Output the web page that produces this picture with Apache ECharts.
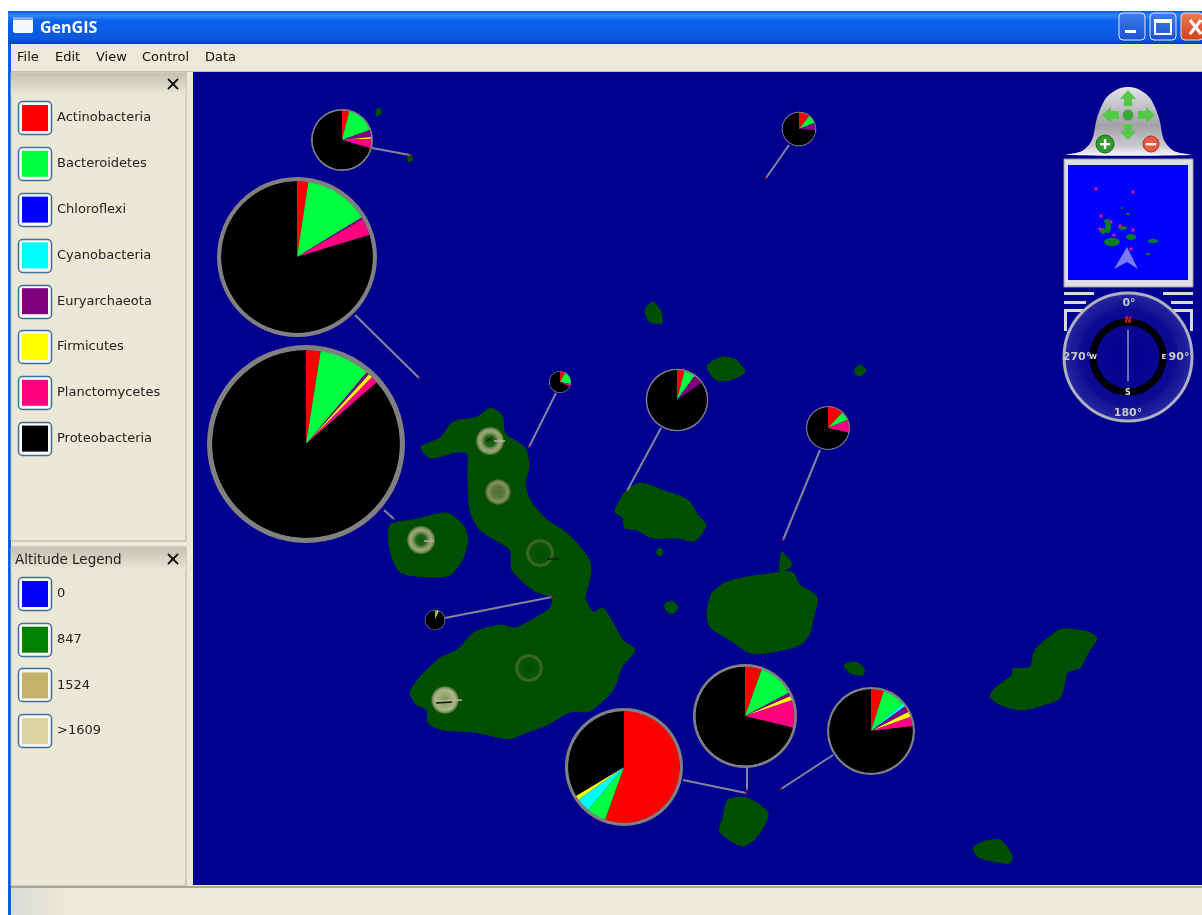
<!DOCTYPE html>
<html><head><meta charset="utf-8"><title>GenGIS</title>
<style>html,body{margin:0;padding:0;background:#fff;overflow:hidden}#c{width:1202px;height:915px;filter:blur(0.45px)}</style>
<script src="https://cdn.jsdelivr.net/npm/echarts@6/dist/echarts.min.js"></script></head>
<body><div id="c"></div>
<script>
// ---------- data ----------
const taxa = ['Actinobacteria','Bacteroidetes','Chloroflexi','Cyanobacteria','Euryarchaeota','Firmicutes','Planctomycetes','Proteobacteria'];
const taxaColors = ['#ff0000','#00ff40','#0000ff','#00ffff','#800080','#ffff00','#ff0080','#000000'];
const altitudes = ['0','847','1524','>1609'];
const altitudeColors = ['#0000ff','#008000','#c4b26a','#dcd3a0'];
const menuItems = ['File','Edit','View','Control','Data'];

const siteA = [4,15.5,0,0,3.8,1,5.2,70.5];
const siteB = [2.4,13.9,0,0,0.4,0,3.6,79.7];
const siteC = [2.5,8.7,0,0,0.5,0.7,1.2,86.4];
const siteD = [8,20,0,0,0,0,4,68];
const siteE = [4,6,0,0,5.4,0,0,84.6];
const siteF = [11.8,6.9,0,0,0,0,9.9,71.4];
const siteG = [10.7,8.3,0,0,7.4,0,0,73.6];
const siteH = [0,3.5,0,0,0,3,0,93.5];
const siteI = [55.5,5.6,0,4,0,1.3,0,33.6];
const siteJ = [5.5,11.8,0,0,1.1,1.4,9,71.2];
const siteK = [4.9,8.85,0,1.25,2.5,2.1,3.6,76.8];
const siteValues = [siteA,siteB,siteC,siteD,siteE,siteF,siteG,siteH,siteI,siteJ,siteK];

// map coordinates of leader-line ends: [pie side, sampling site]
const leaderX = [[372,410],[355,419],[384,394],[556,529],[661,627],[820,783],[789,766],[445,552],[683,746],[747,747],[833,781]];
const leaderY = [[148,155],[315,378],[510,519],[393,447],[428,491],[450,540],[145,178],[618,597],[780,793],[768,790],[755,789]];
// short leader stubs beside the calderas
const stubX = [[494,505],[424,434],[436,462]];
const stubY = [[441,441],[541,541],[701,700]];
const darkStubX = [[547,559],[486,492],[436,452]];
const darkStubY = [[559,559],[441,438],[703,702]];

// island outlines, map coordinates
const isabela = [[421,447],[440,438],[453,422],[477,417],[490,408],[502,415],[505,433],[525,448],[529,467],[525,483],[530,500],[547,520],[567,533],[588,557],[591,570],[587,590],[585,598],[593,612],[603,608],[613,623],[623,640],[635,650],[622,667],[613,690],[590,711],[570,712],[547,725],[525,733],[510,739],[497,737],[473,732],[443,730],[428,723],[427,710],[417,705],[410,693],[420,677],[440,658],[457,650],[475,632],[500,625],[515,628],[528,622],[540,615],[550,608],[552,598],[533,590],[512,570],[510,550],[480,530],[470,510],[468,483],[468,458],[467,453],[457,452],[430,458]];
const fernandina = [[390,525],[413,520],[447,513],[463,525],[468,540],[462,560],[450,575],[427,577],[400,572],[390,550]];
const santiago = [[615,512],[625,492],[640,483],[662,490],[688,500],[698,515],[706,525],[695,541],[677,538],[652,538],[637,530],[625,528],[623,518]];
const santaCruz = [[707,612],[712,593],[727,582],[747,577],[760,575],[792,572],[800,585],[817,597],[813,620],[810,633],[800,645],[767,653],[750,653],[730,640],[710,627]];
const baltra = [[782,552],[792,565],[780,572],[780,562]];
const sanCristobal = [[990,697],[995,688],[1012,675],[1013,669],[1030,667],[1035,650],[1048,638],[1062,629],[1088,632],[1097,638],[1088,653],[1080,668],[1068,672],[1060,698],[1043,705],[1023,710],[1003,706]];
const espanola = [[973,848],[982,842],[1000,840],[1012,855],[1010,863],[992,861],[978,857]];
const floreana = [[728,800],[747,798],[768,813],[757,837],[742,846],[720,832],[723,817]];
const pinta = [[645,310],[653,302],[661,312],[662,323],[650,322]];
const marchena = [[707,366],[722,357],[736,360],[745,372],[730,380],[716,380]];
const genovesa = [[855,369],[860,365],[866,370],[862,375],[856,375]];
const santaFe = [[844,665],[855,662],[864,668],[863,675],[850,673]];
const rabida = [[665,604],[672,601],[678,607],[674,613],[667,612]];
const pinzon = [[657,550],[661,548],[663,553],[660,556],[657,554]];
const wolf = [[376,110],[380,108],[381,114],[377,116]];
const darwin = [[408,156],[412,155],[412,161],[408,161]];
const islands = [isabela,fernandina,santiago,santaCruz,baltra,sanCristobal,espanola,floreana,pinta,marchena,genovesa,santaFe,rabida,pinzon,wolf,darwin];

// volcano calderas: map x, map y
const openCraters = [[490,441],[421,540]];
const dullCraters = [[498,492]];
const filledCraters = [[445,700]];
const faintCraters = [[540,553],[529,668]];

// ---------- layout ----------
const pieLayout = [
 {c:[342,140],r:29,w:2},{c:[297,257],r:75.5,w:4.5},{c:[306,444],r:93.5,w:5.5},{c:[560,382],r:10,w:1},
 {c:[677,400],r:29.5,w:1.8},{c:[828,428],r:20.5,w:1.5},{c:[799,129],r:16,w:1.3},{c:[435,620],r:9.2,w:1},
 {c:[624,767],r:55.5,w:3.5},{c:[745,716],r:49,w:3},{c:[871,731],r:41.5,w:2.5}];

const series = [];
const radial=s=>({type:'radial',x:.5,y:.5,r:.5,colorStops:s.map(c=>({offset:c[0],color:c[1]}))});
series.push({type:'custom',coordinateSystem:'cartesian2d',xAxisIndex:0,yAxisIndex:0,z:1,silent:true,clip:false,animation:false,
  data:islands.map((_,i)=>[i]),
  renderItem(p,api){const pts=islands[api.value(0)].map(q=>api.coord(q));
    return {type:'polygon',shape:{points:pts,smooth:0.25},style:{fill:'#004f00',stroke:'#004f00',lineWidth:1}};}});
const craterSeries=(data,size,stops)=>series.push({type:'scatter',z:1,silent:true,symbolSize:size,animation:false,data,itemStyle:{color:radial(stops)}});
craterSeries(openCraters,30,[[0,'#0d5a0d'],[.35,'#2b6a1f'],[.55,'#a9a880'],[.72,'#c4bd98'],[.88,'#7d8a58'],[1,'rgba(0,79,0,0)']]);
craterSeries(dullCraters,28,[[0,'#5f7a42'],[.45,'#73834d'],[.65,'#a5a277'],[.82,'#808a58'],[1,'rgba(0,79,0,0)']]);
craterSeries(filledCraters,30,[[0,'#9b9b70'],[.4,'#c4bd98'],[.68,'#d6cfae'],[.85,'#8f9668'],[1,'rgba(0,79,0,0)']]);
craterSeries(faintCraters,30,[[0,'rgba(0,79,0,0)'],[.66,'rgba(30,90,20,.5)'],[.8,'#56733a'],[.92,'#2f5f1c'],[1,'rgba(0,79,0,0)']]);
const seg=(xs,ys,color,width,z)=>xs.forEach((x,i)=>series.push({type:'line',z,silent:true,showSymbol:false,animation:false,
    lineStyle:{color,width},data:x.map((v,j)=>[v,ys[i][j]])}));
seg(stubX,stubY,'#b8b494',1.5,2);
seg(darkStubX,darkStubY,'#101810',1.3,2);
seg(leaderX,leaderY,'#84849a',2,2);
series.push({type:'scatter',z:2,silent:true,symbolSize:2.5,animation:false,itemStyle:{color:'#a01030'},
  data:leaderX.map((xs,i)=>[xs[1],leaderY[i][1]])});
siteValues.forEach((vals,i)=>{
  const L = pieLayout[i];
  series.push({type:'pie',z:3,silent:true,animation:false,center:L.c,radius:[L.r,L.r+L.w],label:{show:false},labelLine:{show:false},
    itemStyle:{borderWidth:0},
    data:[{value:1,name:'ring',itemStyle:{color:'#808080'}}]});
  series.push({type:'pie',z:3,silent:true,animation:false,center:L.c,radius:[0,L.r+0.3],startAngle:90,clockwise:true,
    label:{show:false},labelLine:{show:false},minShowLabelAngle:360,itemStyle:{borderWidth:0},
    data:taxa.map((n,k)=>({name:n,value:vals[k],itemStyle:{color:taxaColors[k],borderWidth:0}}))});
});
// zero-size pie that feeds the altitude legend
series.push({type:'pie',z:0,silent:true,animation:false,center:[100,700],radius:[0,0],label:{show:false},labelLine:{show:false},
  data:altitudes.map((n,k)=>({name:n,value:1,itemStyle:{color:altitudeColors[k]}}))});

// ---------- window chrome ----------
const FONT='"DejaVu Sans"';
const G=[];
const rect=(x,y,w,h,fill,z=0,extra={})=>G.push({type:'rect',silent:true,z,shape:{x,y,width:w,height:h,r:extra.r||0},style:{fill,stroke:extra.stroke,lineWidth:extra.lw}});
const txt=(t,x,y,size,fill='#000',z=0,o={})=>G.push({type:'text',silent:true,z,style:{text:t,x,y,fill,font:(o.weight||'normal')+' '+size+'px '+(o.family||FONT),align:o.align||'left',verticalAlign:'middle'}});
const line=(x1,y1,x2,y2,stroke,lw,z=0)=>G.push({type:'line',silent:true,z,shape:{x1,y1,x2,y2},style:{stroke,lineWidth:lw}});
const circ=(cx,cy,r,fill,z=5,stroke,lw)=>G.push({type:'circle',silent:true,z,shape:{cx,cy,r},style:{fill,stroke,lineWidth:lw}});
const poly=(points,fill,z=5,stroke,lw,smooth)=>G.push({type:'polygon',silent:true,z,shape:{points,smooth:smooth||0},style:{fill,stroke,lineWidth:lw}});
const vgrad=s=>({type:'linear',x:0,y:0,x2:0,y2:1,colorStops:s.map(c=>({offset:c[0],color:c[1]}))});
const hgrad=s=>({type:'linear',x:0,y:0,x2:1,y2:0,colorStops:s.map(c=>({offset:c[0],color:c[1]}))});

rect(8,11,1194,904,'#ece9d8');
rect(8,11,3,904,'#0a5fe8');
rect(8,11,1194,33,vgrad([[0,'#0a5ae0'],[.12,'#2f86f5'],[.3,'#0a62ee'],[.85,'#0a58dc'],[1,'#0040c0']]));
// window icon + title
rect(13,17,20,16,'#f4f7ff',1,{r:2}); rect(13,17,20,3,'#7fa6e8',1);
txt('GenGIS',40,28,16,'#ffffff',1,{weight:'bold',family:'"Open Sans"'});
// window buttons
const btn=(x,c)=>rect(x,13,26,27,c,1,{r:4,stroke:'#dfe9fb',lw:1});
btn(1119,vgrad([[0,'#3f7ff0'],[1,'#1c4fd0']])); btn(1150,vgrad([[0,'#3f7ff0'],[1,'#1c4fd0']]));
rect(1181,13,22,27,vgrad([[0,'#ef7a50'],[1,'#d0401c']]),1,{r:4,stroke:'#f5dfd0',lw:1});
rect(1125,30,11,3,'#fff',2);
rect(1155,20,16,14,'rgba(0,0,0,0)',2,{stroke:'#fff',lw:2}); rect(1155,20,16,3,'#fff',2);
line(1190,20,1201,34,'#fff',3,2); line(1201,20,1190,34,'#fff',3,2);
// menu
const menuX=[17,55,96,142,205];
menuItems.forEach((m,i)=>txt(m,menuX[i],58,13,'#111',1));
rect(11,71,1191,1,'#c5c2b2',1);
// side panels
rect(11,72,175,469,'#ebe8d8',0,{stroke:'#b3b0a0',lw:1});
rect(11,73,175,22,vgrad([[0,'#c4c2b4'],[1,'#eae7d8']]),1);
rect(11,547,175,339,'#ebe8d8',0,{stroke:'#b3b0a0',lw:1});
rect(11,548,175,22,vgrad([[0,'#c4c2b4'],[1,'#eae7d8']]),1);
txt('Altitude Legend',15,560,13.5,'#222',2);
[[173,84],[173,559]].forEach(p=>{line(p[0]-5,p[1]-5,p[0]+5,p[1]+5,'#111',1.8,2);line(p[0]+5,p[1]-5,p[0]-5,p[1]+5,'#111',1.8,2);});
const frames=(ys)=>ys.forEach(y=>rect(18.5,y-16.5,33,33,'#fbfbf6',1,{r:4,stroke:'#3e6d9e',lw:1.5}));
frames([118,164,210,256,302,347,393,439]);
frames([594,640,685,731]);
// status bar
rect(11,886,1191,2,'#a8a698',1);
rect(11,888,1191,27,'#ece9d8',1);
rect(11,888,60,27,hgrad([[0,'#dcdcd8'],[1,'#ece9d8']]),1);
// map background
rect(193,72,1009,813,'#000090',0);

// navigation widget (upper right)
poly([[1066,155],[1082,151],[1092,140],[1097,118],[1106,98],[1118,89],[1128,87],[1138,89],[1150,98],[1159,118],[1164,140],[1174,151],[1191,155]],
  vgrad([[0,'#e4e4e8'],[.55,'#a2a2a8'],[.85,'#c8c8cc'],[1,'#f8f8fa']]),5,null,null,0.3);
const green='#55c84a';
poly([[1128,90],[1136,99],[1132,99],[1132,106],[1124,106],[1124,99],[1120,99]],green,6);
poly([[1128,140],[1136,131],[1132,131],[1132,124],[1124,124],[1124,131],[1120,131]],green,6);
poly([[1102,115],[1111,107],[1111,111],[1119,111],[1119,119],[1111,119],[1111,123]],green,6);
poly([[1155,115],[1146,107],[1146,111],[1138,111],[1138,119],[1146,119],[1146,123]],green,6);
circ(1128,115,5.5,'#3ea83a',6);
circ(1105,144,9,'#2f9a2a',6,'#1d6a1a',1); rect(1100,143,10,2.4,'#fff',7); rect(1103.8,139,2.4,10,'#fff',7);
circ(1151,144,8,'#e85a45',6,'#a83a2a',1); rect(1146,143,10,2.4,'#fff',7);
// overview map
rect(1064,159,129,128,'#dedee4',5,{stroke:'#9a9aa4',lw:1});
rect(1068,165,120,115,'#0000ff',6);
[[1112,242,8,4],[1131,237,5,3],[1103,231,3,3],[1108,227,3,6],[1153,241,5,2],[1123,228,4,2],[1107,221,3,2],[1128,214,2,1],[1122,208,1,1],[1148,254,2,1]].forEach(e=>
  G.push({type:'ellipse',silent:true,z:7,shape:{cx:e[0],cy:e[1],rx:e[2],ry:e[3]},style:{fill:'#0a8020'}}));
[[1096,189],[1133,192],[1101,216],[1111,222],[1100,229],[1120,226],[1133,230],[1114,235],[1131,249]].forEach(p=>rect(p[0]-1.5,p[1]-1.5,3,3,'#e8108a',8));
poly([[1127,247],[1138,269],[1127,262],[1114,269]],'#7a7af0',8);
// stripes
[[1064,292,30],[1064,301,22],[1163,292,30],[1171,301,22]].forEach(s=>rect(s[0],s[1],s[2],3,'#d8d8e0',5));
rect(1064,309,20,3,'#d8d8e0',5); rect(1064,309,3,22,'#d8d8e0',5);
rect(1173,309,20,3,'#d8d8e0',5); rect(1190,309,3,22,'#d8d8e0',5);
// compass
circ(1128,357,64,{type:'radial',x:.5,y:.5,r:.5,colorStops:[{offset:0,color:'#000090'},{offset:.7,color:'#0a0a92'},{offset:1,color:'#2a2aa0'}]},6,'#b0b0c0',3);
circ(1128,357,52,'rgba(0,0,0,0)',7,'#1e1e98',1);
circ(1128,357,35,'rgba(0,0,0,0)',7,'#000000',7);
line(1128,330,1128,381,'#dddddd',1,8);
txt('0°',1129,303,11,'#c8c8c8',8,{align:'center',weight:'bold'});
txt('90°',1179,357,11,'#c8c8c8',8,{align:'center',weight:'bold'});
txt('180°',1128,413,11,'#c8c8c8',8,{align:'center',weight:'bold'});
txt('270°',1077,357,11,'#c8c8c8',8,{align:'center',weight:'bold'});
txt('N',1128,321,8,'#e02020',9,{align:'center',weight:'bold'});
txt('S',1128,393,8,'#dddddd',9,{align:'center',weight:'bold'});
txt('W',1093,357,7,'#dddddd',9,{align:'center',weight:'bold'});
txt('E',1164,357,7,'#dddddd',9,{align:'center',weight:'bold'});

const legendBase={orient:'vertical',left:22,padding:0,itemWidth:26,itemHeight:26,icon:'rect',selectedMode:false,z:4,
  textStyle:{fontFamily:FONT,fontSize:13,color:'#222',padding:[4,0,0,4]}};

const chart=echarts.init(document.getElementById('c'),null,{renderer:'canvas',width:1202,height:915});
chart.setOption({
  animation:false,backgroundColor:'#ffffff',
  grid:{left:193,right:0,top:72,bottom:30,show:false},
  xAxis:{type:'value',min:193,max:1202,show:false},
  yAxis:{type:'value',min:72,max:885,inverse:true,show:false},
  tooltip:{show:false},
  legend:[
    Object.assign({},legendBase,{top:105,itemGap:19.8,data:taxa}),
    Object.assign({},legendBase,{top:581,itemGap:19.7,data:altitudes})
  ],
  graphic:{elements:G},
  series
});
</script></body></html>
